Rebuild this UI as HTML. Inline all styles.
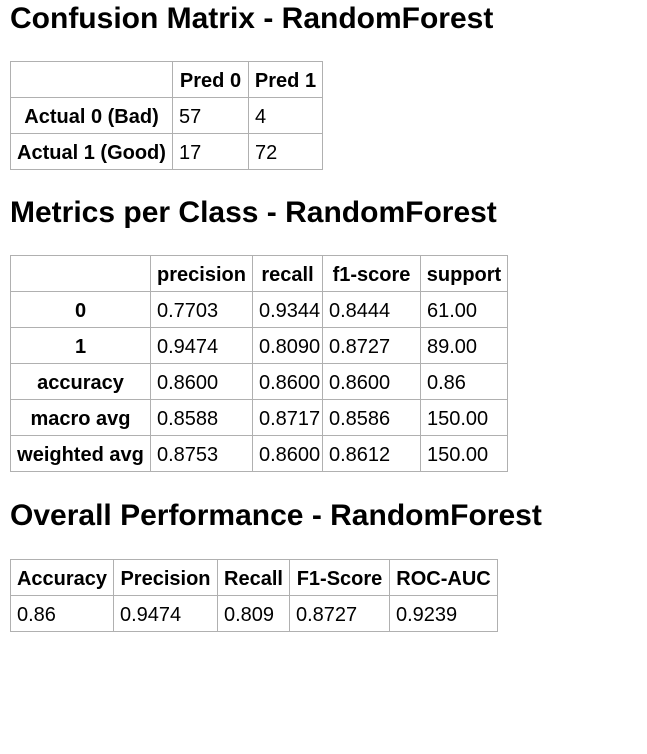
<!DOCTYPE html>
<html><head><meta charset="utf-8"><style>
body{margin:0;background:#fff;font-family:"Liberation Sans",Arial,sans-serif;color:#000;width:647px;height:754px;overflow:hidden;position:relative}
h2{position:absolute;left:10px;margin:0;font-size:30px;font-weight:bold;line-height:34px}
table{position:absolute;left:10px;border-collapse:collapse;table-layout:fixed;font-size:20px}
td,th{border:1px solid #b0b0b0;padding:3px 4px 0 4px;height:32px;white-space:nowrap;overflow:hidden}
th{font-weight:bold;text-align:center}
td{text-align:left;padding-left:6px}
</style></head><body>
<h2 style="top:2px">Confusion Matrix - RandomForest</h2>
<table style="top:61px;width:312px">
<colgroup><col style="width:162px"><col style="width:76px"><col style="width:74px"></colgroup>
<tr><th></th><th>Pred 0</th><th>Pred 1</th></tr>
<tr><th>Actual 0 (Bad)</th><td>57</td><td>4</td></tr>
<tr><th>Actual 1 (Good)</th><td>17</td><td>72</td></tr>
</table>
<h2 style="top:196px">Metrics per Class - RandomForest</h2>
<table style="top:255px;width:497px">
<colgroup><col style="width:140px"><col style="width:102px"><col style="width:70px"><col style="width:98px"><col style="width:87px"></colgroup>
<tr><th></th><th>precision</th><th>recall</th><th>f1-score</th><th>support</th></tr>
<tr><th>0</th><td>0.7703</td><td>0.9344</td><td>0.8444</td><td>61.00</td></tr>
<tr><th>1</th><td>0.9474</td><td>0.8090</td><td>0.8727</td><td>89.00</td></tr>
<tr><th>accuracy</th><td>0.8600</td><td>0.8600</td><td>0.8600</td><td>0.86</td></tr>
<tr><th>macro avg</th><td>0.8588</td><td>0.8717</td><td>0.8586</td><td>150.00</td></tr>
<tr><th>weighted avg</th><td>0.8753</td><td>0.8600</td><td>0.8612</td><td>150.00</td></tr>
</table>
<h2 style="top:499px">Overall Performance - RandomForest</h2>
<table style="top:559px;width:487px">
<colgroup><col style="width:103px"><col style="width:104px"><col style="width:72px"><col style="width:100px"><col style="width:108px"></colgroup>
<tr><th>Accuracy</th><th>Precision</th><th>Recall</th><th>F1-Score</th><th>ROC-AUC</th></tr>
<tr><td>0.86</td><td>0.9474</td><td>0.809</td><td>0.8727</td><td>0.9239</td></tr>
</table>
</body></html>
